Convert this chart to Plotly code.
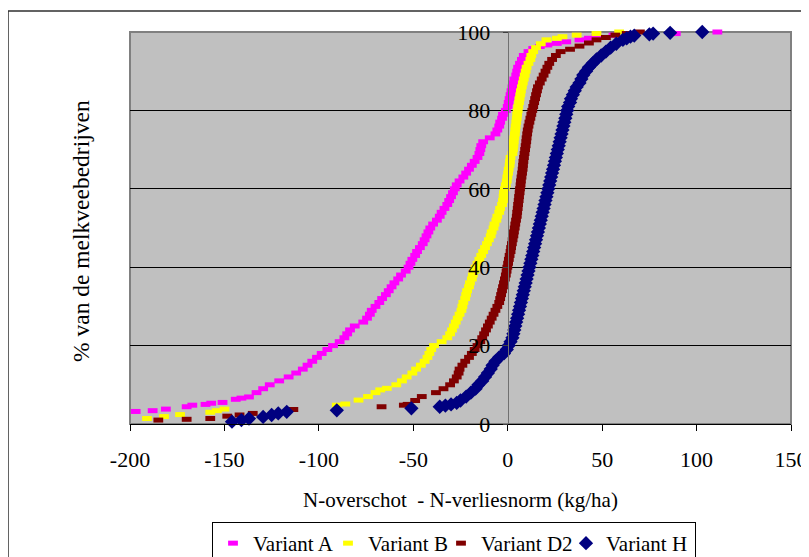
import plotly.graph_objects as go

# ---------------- data ----------------
x_ticks = [-200, -150, -100, -50, 0, 50, 100, 150]
x_tick_labels = ["-200", "-150", "-100", "-50", "0", "50", "100", "150"]
y_ticks = [0, 20, 40, 60, 80, 100]

variant_a_x = [-197, -188, -181, -170, -167, -160, -157, -151, -144, -141, -137,
               -133, -129.5, -126, -121, -116, -112, -108.5, -106, -103.5, -101,
               -98.5, -95.5, -92.5, -89, -86.5, -85, -83.5, -81, -76.5, -74.5,
               -73, -72, -70, -68, -66.5, -64.5, -63, -61.5, -60, -58,
               -56.5, -54, -52.5, -51.5, -50.5, -49, -48, -46.5, -45, -44,
               -43, -42, -41, -39.5, -37.5, -36, -35, -33.5, -32, -31,
               -30, -29, -28, -27, -25.5, -23.5, -22, -20.5, -19, -17.5,
               -16, -15, -14.5, -14, -13, -9.5, -6.5, -5.5, -4.5, -4,
               -3, -2.5, -1, 0, 0.5, 1, 1.5, 2, 2.5, 3,
               3.5, 4.5, 5, 5.5, 6.5, 7.5, 8.5, 11,
               13.5, 17, 21, 26, 31, 38, 43, 47, 56, 89, 111]
variant_a_y = [3.2, 3.4, 3.8, 4.4, 4.8, 5.0, 5.3, 5.5, 6.3, 6.6, 6.9,
               8, 9, 10, 11, 12, 13, 14, 15, 16, 17,
               18, 19, 20, 21, 22, 23, 24, 25, 26, 27,
               28, 29, 30, 31, 32, 33, 34, 35, 36, 37,
               38, 39, 40, 41, 42, 43, 44, 45, 46, 47,
               48, 49, 50, 51, 52, 53, 54, 55, 56, 57,
               58, 59, 60, 61, 62, 63, 64, 65, 66, 67,
               68, 69, 70, 71, 72, 73, 74, 75, 76, 77,
               78, 79, 80, 81, 82, 83, 84, 85, 86, 87,
               88, 89, 90, 91, 92, 93, 94, 95,
               95.8, 96.3, 96.7, 97.1, 97.5, 98.0, 98.4, 98.8, 99.2, 99.6, 100]

variant_b_x = [-191, -182, -173.5, -157.5, -154, -150, -90.5, -86, -79, -74, -70, -67.5, -64,
               -59, -56, -53.5, -50.5, -48.5, -46, -44, -42.5, -41.5, -40.5,
               -39, -35, -32, -30.5, -29.5, -28.5, -27.5, -26.5, -25.5, -24.5,
               -24, -23.5, -22.5, -22, -21.5, -20.5, -20, -19, -18.5, -17.5,
               -17, -16, -15, -14, -13, -12, -11, -10, -9, -8.5,
               -7.5, -7, -6, -5.5, -4.5, -4, -3, -2.5, -2.2, -2,
               -1.5, -1, -0.5, -0.2, 0.2, 0.5, 1, 1.2, 1.5, 2.5,
               2.8, 3, 3.2, 3.5, 3.8, 4, 4.2, 4.5, 4.8, 5,
               5.3, 5.6, 6, 6.3, 6.7, 7, 7.5, 8, 8.5, 9,
               9.5, 10, 11, 12, 12.5, 13.5, 15, 17.5, 20.5,
               26, 29, 36.5, 47, 59]
variant_b_y = [1.4, 1.9, 2.4, 3.0, 3.4, 3.8, 4.8, 5.1, 6.1, 7.0, 8.0, 8.7, 9.1,
               10, 11, 12, 13, 14, 15, 16, 17, 18, 19,
               20, 21, 22, 23, 24, 25, 26, 27, 28, 29,
               30, 31, 32, 33, 34, 35, 36, 37, 38, 39,
               40, 41, 42, 43, 44, 45, 46, 47, 48, 49,
               50, 51, 52, 53, 54, 55, 56, 57, 58, 59,
               60, 61, 62, 63, 64, 65, 66, 67, 68, 69,
               70, 71, 72, 73, 74, 75, 76, 77, 78, 79,
               80, 81, 82, 83, 84, 85, 86, 87, 88, 89,
               90, 91, 92, 93, 94, 95, 96, 97, 98,
               98.4, 98.8, 99.2, 99.6, 100]

variant_d2_x = [-185, -170, -157.5, -148.5, -142, -135, -113.5, -66.8, -55,
                -53, -49, -45.5, -38, -34, -30.5, -28.5, -27, -26, -25.5,
                -24, -22.5, -20.5, -19, -17.5, -16, -14.5, -13.5, -12.5, -11.5,
                -10.5, -9.5, -8.5, -7.5, -6.5, -5.5, -4.5, -4, -3.5, -3,
                -2.5, -2, -1.5, -1, -0.6, -0.2, 0.2, 0.6, 1, 1.5,
                1.8, 2.2, 2.6, 3, 3.3, 3.7, 4, 4.4, 4.8, 5,
                5.3, 5.5, 5.8, 6, 6.3, 6.5, 6.8, 7, 7.3, 7.6,
                7.9, 8.1, 8.3, 8.6, 8.9, 9.2, 9.5, 9.8, 10, 10.3,
                10.6, 11, 11.5, 12, 12.5, 13, 13.5, 14, 14.5, 15,
                15.5, 16, 17, 18, 19, 20, 21, 22, 23.5, 25.5, 28,
                33, 38, 43, 47, 52, 57, 63, 70]
variant_d2_y = [1.0, 1.2, 1.4, 2.0, 2.3, 2.7, 3.7, 4.4, 4.8,
                5, 6, 7, 8, 9, 10, 11, 12, 13, 14,
                15, 16, 17, 18, 19, 20, 21, 22, 23, 24,
                25, 26, 27, 28, 29, 30, 31, 32, 33, 34,
                35, 36, 37, 38, 39, 40, 41, 42, 43, 44,
                45, 46, 47, 48, 49, 50, 51, 52, 53, 54,
                55, 56, 57, 58, 59, 60, 61, 62, 63, 64,
                65, 66, 67, 68, 69, 70, 71, 72, 73, 74,
                75, 76, 77, 78, 79, 80, 81, 82, 83, 84,
                85, 86, 87, 88, 89, 90, 91, 92, 93, 94, 95,
                95.6, 96.4, 97.2, 98.0, 98.6, 99.2, 99.6, 100]

variant_h_x = [-146, -141, -137, -129.5, -125, -121.5, -117, -90.5, -51, -36, -33, -30, -27,
               -25, -22, -19.5, -17, -15.5, -13.5, -12, -10.5, -9, -8,
               -6.5, -4.5, -2, -0.5, 0.5, 1.5, 2.5, 3, 3.5, 4,
               4.5, 5, 5.5, 6, 6.5, 7, 7.5, 8, 8.5, 9,
               9.5, 10, 10.5, 11, 11.5, 12, 12.5, 13, 13.5, 14,
               14.5, 15, 15.5, 16, 16.5, 17, 17.5, 18, 18.5, 19,
               19.5, 20, 20.5, 21, 21.5, 22, 22.5, 23, 23.5, 24,
               24.5, 25, 25.5, 26, 26.5, 27, 27.5, 28, 28.5, 29,
               29.5, 30, 30.5, 31, 31.5, 32, 33, 33.5, 34.5, 35.5,
               36.5, 38, 39, 40, 41.5, 43, 45, 47, 49.5, 52,
               54.5, 57.5, 61, 63, 65, 67, 75, 77, 86, 103]
variant_h_y = [0.6, 1.0, 1.4, 1.8, 2.3, 2.7, 3.1, 3.5, 4.0, 4.4, 4.7, 5.0, 5.4,
               6, 7, 8, 9, 10, 11, 12, 13, 14, 15,
               16, 17, 18, 19, 20, 21, 22, 23, 24, 25,
               26, 27, 28, 29, 30, 31, 32, 33, 34, 35,
               36, 37, 38, 39, 40, 41, 42, 43, 44, 45,
               46, 47, 48, 49, 50, 51, 52, 53, 54, 55,
               56, 57, 58, 59, 60, 61, 62, 63, 64, 65,
               66, 67, 68, 69, 70, 71, 72, 73, 74, 75,
               76, 77, 78, 79, 80, 81, 82, 83, 84, 85,
               86, 87, 88, 89, 90, 91, 92, 93, 94, 95,
               96, 97, 98, 98.4, 98.8, 99.1, 99.4, 99.6, 99.8, 100]

series_names = ["Variant A", "Variant B", "Variant D2", "Variant H"]
series_colors = ["#FF00FF", "#FFFF00", "#800000", "#000080"]
legend_widths = [70, 68, 80, 84]

# ---------------- figure ----------------
FONT = "Liberation Serif"
fig = go.Figure()

dash_series = [(variant_a_x, variant_a_y), (variant_b_x, variant_b_y), (variant_d2_x, variant_d2_y)]
for (xs, ys), name, col, lw in zip(dash_series, series_names[:3], series_colors[:3], legend_widths[:3]):
    fig.add_trace(go.Scatter(
        x=xs, y=ys, name=name, mode="markers", cliponaxis=False, legendwidth=lw,
        marker=dict(symbol="line-ew", size=7, color=col,
                    line=dict(color=col, width=5)),
    ))

fig.add_trace(go.Scatter(
    x=variant_h_x, y=variant_h_y, name=series_names[3], mode="markers", cliponaxis=False,
    legendwidth=legend_widths[3],
    marker=dict(symbol="diamond", size=11, color=series_colors[3], line=dict(width=0)),
))

# the page body adds an 8 px offset; reference plot area: x 130..791, y 32..424
OFF = 8
W, H = 809, 557
L, T = 130 - OFF, 32 - OFF
pw, ph = 661, 392
R, B = W - L - pw, H - T - ph

def px(X):
    return (X - 130) / pw

def py(Y):
    return (424 - Y) / ph

fig.update_layout(
    width=W, height=H,
    margin=dict(l=L, r=R, t=T, b=B, pad=0, autoexpand=False),
    paper_bgcolor="white",
    plot_bgcolor="#C0C0C0",
    font=dict(family=FONT, size=22, color="black"),
    showlegend=True,
    legend=dict(
        orientation="h", x=px(212), y=py(522), xanchor="left", yanchor="top",
        bgcolor="white", bordercolor="black", borderwidth=1,
        font=dict(family=FONT, size=21, color="black"),
        itemsizing="trace",
    ),
    xaxis=dict(
        range=[-200, 150], tickvals=x_ticks, ticktext=x_tick_labels,
        showgrid=False, zeroline=False, automargin=False,
        showline=True, linecolor="black", linewidth=1,
        ticks="outside", ticklen=6, tickcolor="black", tickwidth=1,
        ticklabelstandoff=10,
        tickfont=dict(family=FONT, size=22, color="black"),
    ),
    yaxis=dict(
        range=[0, 100], tickvals=y_ticks, anchor="free", position=200 / 350,
        showgrid=True, gridcolor="black", gridwidth=1, zeroline=False, automargin=False,
        showline=True, linecolor="#707070", linewidth=1,
        ticks="outside", ticklen=5, tickcolor="#404040",
        ticklabelstandoff=8,
        layer="above traces",
        tickfont=dict(family=FONT, size=22, color="black"),
    ),
    shapes=[
        dict(type="rect", xref="paper", yref="paper", x0=0, x1=1, y0=0, y1=1,
             line=dict(color="#808080", width=2), layer="between"),
        dict(type="rect", xref="paper", yref="paper", x0=px(8), x1=px(830),
             y0=py(580), y1=py(11), line=dict(color="#303030", width=1.5),
             layer="below"),
    ],
    annotations=[
        dict(text="N-overschot  - N-verliesnorm (kg/ha)", xref="paper", yref="paper",
             x=px(460.5), y=py(500), xanchor="center", yanchor="middle",
             showarrow=False, font=dict(family=FONT, size=21, color="black")),
        dict(text="% van de melkveebedrijven", xref="paper", yref="paper",
             x=px(81), y=py(231), xanchor="center", yanchor="middle", textangle=-90,
             showarrow=False, font=dict(family=FONT, size=23.5, color="black")),
    ],
)

fig.write_html("out.html")
